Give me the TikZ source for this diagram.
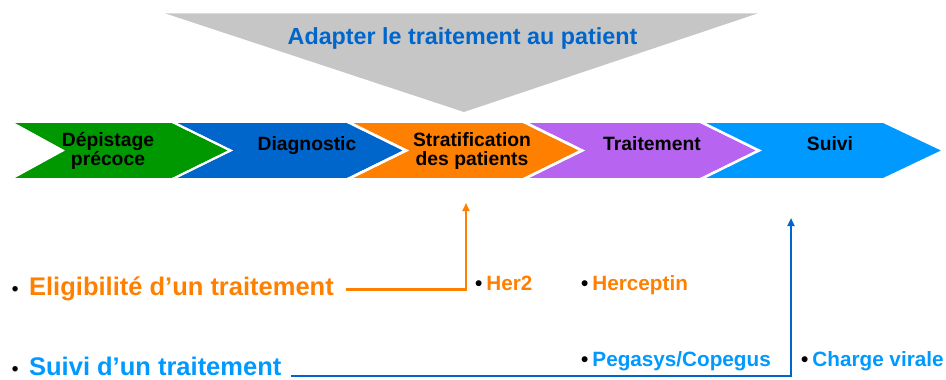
\documentclass[tikz,border=0pt]{standalone}
\usepackage{fontspec}
\setmainfont{Liberation Sans}
\usetikzlibrary{arrows.meta}
\definecolor{cgreen}{RGB}{0,152,0}
\definecolor{cblue}{RGB}{0,102,204}
\definecolor{corange}{RGB}{255,128,0}
\definecolor{cpurple}{RGB}{183,100,240}
\definecolor{clight}{RGB}{0,153,255}
\definecolor{cgray}{RGB}{198,198,198}
\newcommand{\chevtxt}{\fontsize{19.3}{19}\selectfont\bfseries}
\newcommand{\bigtxt}{\fontsize{25.5}{26}\selectfont\bfseries}
\newcommand{\smalltxt}{\fontsize{20.7}{21}\selectfont\bfseries}
\newcommand{\bigbul}{{\color{black}\fontsize{19}{19}\selectfont •}\hspace{10.6pt}}
\newcommand{\smallbul}{{\color{black}\fontsize{20.7}{21}\selectfont •}\hspace{4pt}}
\begin{document}
\begin{tikzpicture}[x=1pt,y=-1pt,
  chev/.style={draw=white,line width=1.6pt,line join=miter},
  chevlabel/.style={inner sep=0pt,anchor=base,align=center,font=\chevtxt,text=black},
  biglabel/.style={inner sep=0pt,anchor=base west,font=\bigtxt},
  smalllabel/.style={inner sep=0pt,anchor=base west,font=\smalltxt},
  oline/.style={draw=corange,line width=2.2pt,-{Triangle[length=8pt,width=7pt]}},
  bline/.style={draw=cblue,line width=2.4pt,-{Triangle[length=8pt,width=7pt]}}]
\useasboundingbox (0,0) rectangle (946,380);
% grey funnel
\fill[cgray] (165,13.3) -- (758,13.3) -- (464,112) -- cycle;
\node[inner sep=0pt,anchor=base,font=\fontsize{23.3}{24}\selectfont\bfseries,text=cblue] (title) at (462.5,44) {Adapter le traitement au patient};
% chevrons
\fill[chev,fill=cgreen]  (11,122) -- (172,122) -- (230,150.5) -- (172,179) -- (11,179) -- (63,150.5) -- cycle;
\fill[chev,fill=cblue]   (173,122) -- (347,122) -- (405,150.5) -- (347,179) -- (173,179) -- (231,150.5) -- cycle;
\fill[chev,fill=corange] (349,122) -- (523,122) -- (581,150.5) -- (523,179) -- (349,179) -- (407,150.5) -- cycle;
\fill[chev,fill=cpurple] (525,122) -- (700,122) -- (758,150.5) -- (700,179) -- (525,179) -- (583,150.5) -- cycle;
\fill[chev,fill=clight]  (702,122) -- (883,122) -- (943,150.5) -- (883,179) -- (702,179) -- (760,150.5) -- cycle;
\draw[chev] (11,122) -- (172,122) -- (230,150.5) -- (172,179) -- (11,179) -- (63,150.5) -- cycle;
\draw[chev] (173,122) -- (347,122) -- (405,150.5) -- (347,179) -- (173,179) -- (231,150.5) -- cycle;
\draw[chev] (349,122) -- (523,122) -- (581,150.5) -- (523,179) -- (349,179) -- (407,150.5) -- cycle;
\draw[chev] (525,122) -- (700,122) -- (758,150.5) -- (700,179) -- (525,179) -- (583,150.5) -- cycle;
\node[chevlabel] (dep) at (108,165) {Dépistage\\précoce};
\node[chevlabel] (diag) at (307,150.7) {Diagnostic};
\node[chevlabel] (strat) at (472,165) {Stratification\\des patients};
\node[chevlabel] (trait) at (652,150.7) {Traitement};
\node[chevlabel] (suivi) at (830,150.7) {Suivi};
% bottom labels
\node[biglabel,text=corange] (elig) at (11.7,295) {\bigbul Eligibilité d’un traitement};
\node[biglabel,text=clight] (suivt) at (11.7,375.5) {\bigbul Suivi d’un traitement};
\node[smalllabel,text=corange] (her2) at (475,290.7) {\smallbul Her2};
\node[smalllabel,text=corange] (herc) at (581,290.7) {\smallbul Herceptin};
\node[smalllabel,text=clight] (peg) at (581,366.7) {\smallbul Pegasys/Copegus};
\node[smalllabel,text=clight] (cv) at (801,366.7) {\smallbul Charge virale};
% connectors
\coordinate (tipE) at (466,203);
\coordinate (tipS) at (791,218);
\draw[oline] ([shift={(12,-5.5)}]elig.base east) -| (tipE);
\draw[bline] ([shift={(9,0.5)}]suivt.base east) -| (tipS);
\end{tikzpicture}
\end{document}
